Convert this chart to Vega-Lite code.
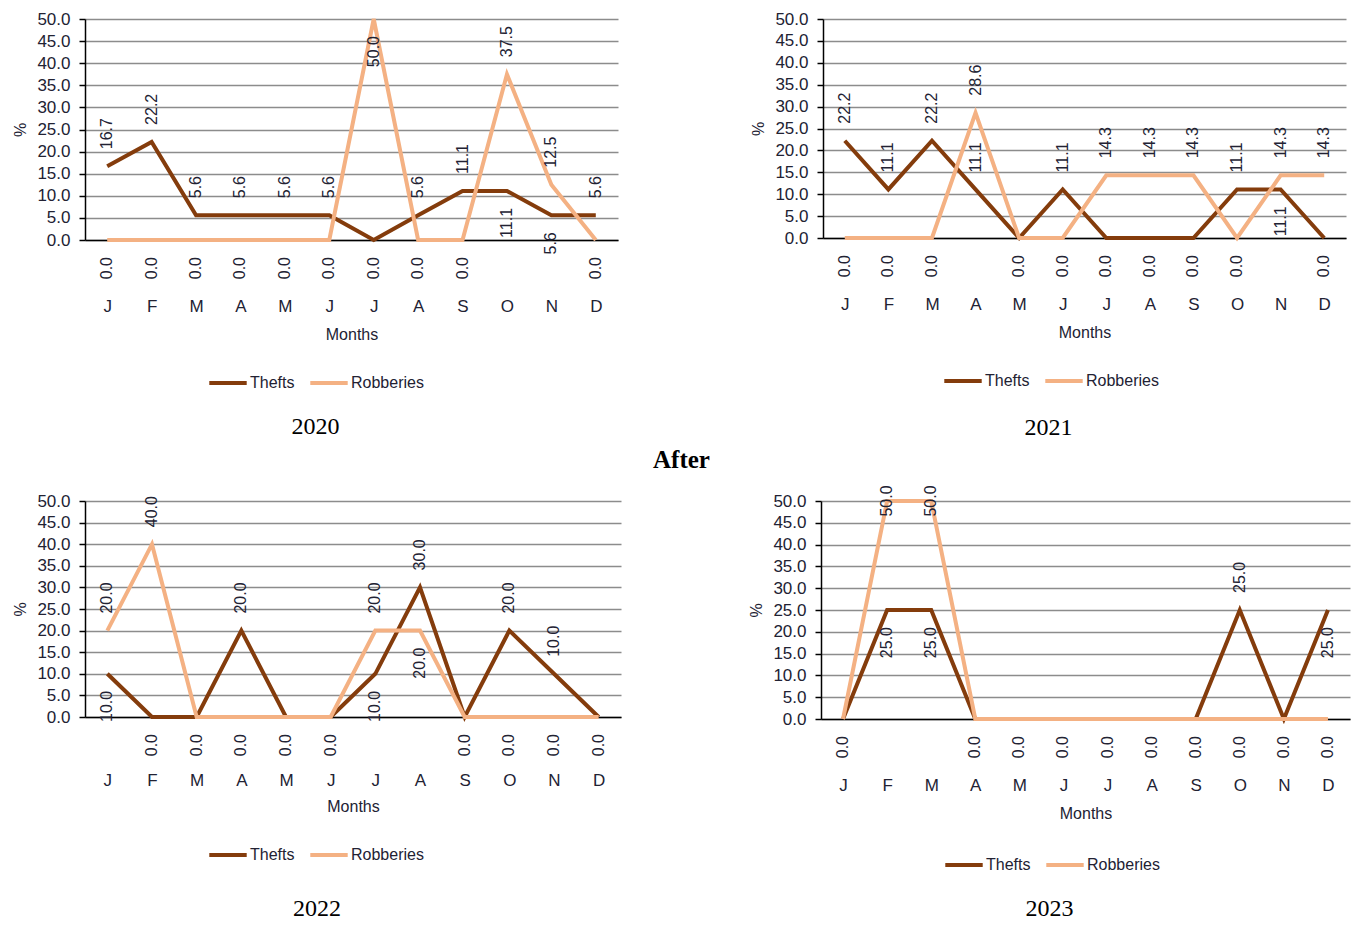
{
  "$schema": "https://vega.github.io/schema/vega-lite/v6.json",
  "background": "white",
  "padding": {"left": 12, "top": 10, "right": 5, "bottom": 2},
  "datasets": {
    "crime": [
      {"year": 2020, "month": 1, "series": "Thefts", "value": 16.7},
      {"year": 2020, "month": 2, "series": "Thefts", "value": 22.2},
      {"year": 2020, "month": 3, "series": "Thefts", "value": 5.6},
      {"year": 2020, "month": 4, "series": "Thefts", "value": 5.6},
      {"year": 2020, "month": 5, "series": "Thefts", "value": 5.6},
      {"year": 2020, "month": 6, "series": "Thefts", "value": 5.6},
      {"year": 2020, "month": 7, "series": "Thefts", "value": 0},
      {"year": 2020, "month": 8, "series": "Thefts", "value": 5.6},
      {"year": 2020, "month": 9, "series": "Thefts", "value": 11.1},
      {"year": 2020, "month": 10, "series": "Thefts", "value": 11.1},
      {"year": 2020, "month": 11, "series": "Thefts", "value": 5.6},
      {"year": 2020, "month": 12, "series": "Thefts", "value": 5.6},
      {"year": 2020, "month": 1, "series": "Robberies", "value": 0},
      {"year": 2020, "month": 2, "series": "Robberies", "value": 0},
      {"year": 2020, "month": 3, "series": "Robberies", "value": 0},
      {"year": 2020, "month": 4, "series": "Robberies", "value": 0},
      {"year": 2020, "month": 5, "series": "Robberies", "value": 0},
      {"year": 2020, "month": 6, "series": "Robberies", "value": 0},
      {"year": 2020, "month": 7, "series": "Robberies", "value": 50},
      {"year": 2020, "month": 8, "series": "Robberies", "value": 0},
      {"year": 2020, "month": 9, "series": "Robberies", "value": 0},
      {"year": 2020, "month": 10, "series": "Robberies", "value": 37.5},
      {"year": 2020, "month": 11, "series": "Robberies", "value": 12.5},
      {"year": 2020, "month": 12, "series": "Robberies", "value": 0},
      {"year": 2021, "month": 1, "series": "Thefts", "value": 22.2},
      {"year": 2021, "month": 2, "series": "Thefts", "value": 11.1},
      {"year": 2021, "month": 3, "series": "Thefts", "value": 22.2},
      {"year": 2021, "month": 4, "series": "Thefts", "value": 11.1},
      {"year": 2021, "month": 5, "series": "Thefts", "value": 0},
      {"year": 2021, "month": 6, "series": "Thefts", "value": 11.1},
      {"year": 2021, "month": 7, "series": "Thefts", "value": 0},
      {"year": 2021, "month": 8, "series": "Thefts", "value": 0},
      {"year": 2021, "month": 9, "series": "Thefts", "value": 0},
      {"year": 2021, "month": 10, "series": "Thefts", "value": 11.1},
      {"year": 2021, "month": 11, "series": "Thefts", "value": 11.1},
      {"year": 2021, "month": 12, "series": "Thefts", "value": 0},
      {"year": 2021, "month": 1, "series": "Robberies", "value": 0},
      {"year": 2021, "month": 2, "series": "Robberies", "value": 0},
      {"year": 2021, "month": 3, "series": "Robberies", "value": 0},
      {"year": 2021, "month": 4, "series": "Robberies", "value": 28.6},
      {"year": 2021, "month": 5, "series": "Robberies", "value": 0},
      {"year": 2021, "month": 6, "series": "Robberies", "value": 0},
      {"year": 2021, "month": 7, "series": "Robberies", "value": 14.3},
      {"year": 2021, "month": 8, "series": "Robberies", "value": 14.3},
      {"year": 2021, "month": 9, "series": "Robberies", "value": 14.3},
      {"year": 2021, "month": 10, "series": "Robberies", "value": 0},
      {"year": 2021, "month": 11, "series": "Robberies", "value": 14.3},
      {"year": 2021, "month": 12, "series": "Robberies", "value": 14.3},
      {"year": 2022, "month": 1, "series": "Thefts", "value": 10},
      {"year": 2022, "month": 2, "series": "Thefts", "value": 0},
      {"year": 2022, "month": 3, "series": "Thefts", "value": 0},
      {"year": 2022, "month": 4, "series": "Thefts", "value": 20},
      {"year": 2022, "month": 5, "series": "Thefts", "value": 0},
      {"year": 2022, "month": 6, "series": "Thefts", "value": 0},
      {"year": 2022, "month": 7, "series": "Thefts", "value": 10},
      {"year": 2022, "month": 8, "series": "Thefts", "value": 30},
      {"year": 2022, "month": 9, "series": "Thefts", "value": 0},
      {"year": 2022, "month": 10, "series": "Thefts", "value": 20},
      {"year": 2022, "month": 11, "series": "Thefts", "value": 10},
      {"year": 2022, "month": 12, "series": "Thefts", "value": 0},
      {"year": 2022, "month": 1, "series": "Robberies", "value": 20},
      {"year": 2022, "month": 2, "series": "Robberies", "value": 40},
      {"year": 2022, "month": 3, "series": "Robberies", "value": 0},
      {"year": 2022, "month": 4, "series": "Robberies", "value": 0},
      {"year": 2022, "month": 5, "series": "Robberies", "value": 0},
      {"year": 2022, "month": 6, "series": "Robberies", "value": 0},
      {"year": 2022, "month": 7, "series": "Robberies", "value": 20},
      {"year": 2022, "month": 8, "series": "Robberies", "value": 20},
      {"year": 2022, "month": 9, "series": "Robberies", "value": 0},
      {"year": 2022, "month": 10, "series": "Robberies", "value": 0},
      {"year": 2022, "month": 11, "series": "Robberies", "value": 0},
      {"year": 2022, "month": 12, "series": "Robberies", "value": 0},
      {"year": 2023, "month": 1, "series": "Thefts", "value": 0},
      {"year": 2023, "month": 2, "series": "Thefts", "value": 25},
      {"year": 2023, "month": 3, "series": "Thefts", "value": 25},
      {"year": 2023, "month": 4, "series": "Thefts", "value": 0},
      {"year": 2023, "month": 5, "series": "Thefts", "value": 0},
      {"year": 2023, "month": 6, "series": "Thefts", "value": 0},
      {"year": 2023, "month": 7, "series": "Thefts", "value": 0},
      {"year": 2023, "month": 8, "series": "Thefts", "value": 0},
      {"year": 2023, "month": 9, "series": "Thefts", "value": 0},
      {"year": 2023, "month": 10, "series": "Thefts", "value": 25},
      {"year": 2023, "month": 11, "series": "Thefts", "value": 0},
      {"year": 2023, "month": 12, "series": "Thefts", "value": 25},
      {"year": 2023, "month": 1, "series": "Robberies", "value": 0},
      {"year": 2023, "month": 2, "series": "Robberies", "value": 50},
      {"year": 2023, "month": 3, "series": "Robberies", "value": 50},
      {"year": 2023, "month": 4, "series": "Robberies", "value": 0},
      {"year": 2023, "month": 5, "series": "Robberies", "value": 0},
      {"year": 2023, "month": 6, "series": "Robberies", "value": 0},
      {"year": 2023, "month": 7, "series": "Robberies", "value": 0},
      {"year": 2023, "month": 8, "series": "Robberies", "value": 0},
      {"year": 2023, "month": 9, "series": "Robberies", "value": 0},
      {"year": 2023, "month": 10, "series": "Robberies", "value": 0},
      {"year": 2023, "month": 11, "series": "Robberies", "value": 0},
      {"year": 2023, "month": 12, "series": "Robberies", "value": 0}
    ]
  },
  "config": {
    "view": {"stroke": null},
    "font": "Liberation Sans",
    "axis": {
      "labelFont": "Liberation Sans",
      "labelFontSize": 17,
      "labelColor": "#222233",
      "titleFont": "Liberation Sans",
      "titleFontSize": 16,
      "titleFontWeight": "normal",
      "titleColor": "#222233",
      "domainColor": "#000000",
      "domainWidth": 1.5,
      "tickColor": "#000000",
      "tickWidth": 1.5,
      "gridColor": "#8c8c8c",
      "gridWidth": 1.5,
      "labelOverlap": false
    },
    "legend": {
      "orient": "none",
      "direction": "horizontal",
      "title": null,
      "symbolType": "stroke",
      "symbolStrokeWidth": 4,
      "symbolSize": 1400,
      "labelFont": "Liberation Sans",
      "labelFontSize": 16,
      "labelColor": "#222233",
      "labelOffset": 1,
      "columnPadding": 7
    },
    "title": {
      "font": "Liberation Serif",
      "fontSize": 24,
      "fontWeight": "normal",
      "color": "#000000",
      "orient": "bottom",
      "anchor": "middle",
      "frame": "bounds"
    },
    "text": {"font": "Liberation Sans", "fontSize": 16, "color": "#222233", "angle": 270, "baseline": "middle"}
  },
  "resolve": {"scale": {"color": "independent"}, "legend": {"color": "independent"}},
  "spacing": 8,
  "vconcat": [
    {
      "spacing": 132,
      "resolve": {"scale": {"color": "independent"}, "legend": {"color": "independent"}},
      "hconcat": [
        {
          "width": 533,
          "height": 221,
          "title": {"text": "2020", "offset": 24},
          "data": {"name": "crime"},
          "transform": [{"filter": "datum.year == 2020"}],
          "encoding": {
            "x": {"field": "month", "type": "ordinal", "axis": {"title": "Months", "labelAngle": 0, "labelExpr": "['J','F','M','A','M','J','J','A','S','O','N','D'][datum.value - 1]", "tickSize": 0, "labelPadding": 58, "titlePadding": 12, "grid": false}},
            "y": {"field": "value", "type": "quantitative", "scale": {"domain": [0, 50]}, "axis": {"title": "%", "values": [0, 5, 10, 15, 20, 25, 30, 35, 40, 45, 50], "format": ".1f", "tickSize": 6, "labelPadding": 9, "titlePadding": 8, "grid": true}}
          },
          "layer": [
            {"transform": [{"filter": "datum.series == 'Thefts'"}], "mark": {"type": "line", "strokeWidth": 4}, "encoding": {"color": {"field": "series", "type": "nominal", "scale": {"domain": ["Thefts", "Robberies"], "range": ["#843C0C", "#F4B183"]}, "legend": {"legendX": 122, "legendY": 343}}}},
            {"transform": [{"filter": "datum.series == 'Robberies'"}], "mark": {"type": "line", "strokeWidth": 4}, "encoding": {"color": {"field": "series", "type": "nominal", "scale": {"domain": ["Thefts", "Robberies"], "range": ["#843C0C", "#F4B183"]}, "legend": {"legendX": 122, "legendY": 343}}}},
            {"transform": [{"filter": "datum.value > 0 && !(datum.series == 'Thefts' && (datum.month == 10 || datum.month == 11)) && !(datum.series == 'Robberies' && datum.month == 7)"}], "mark": {"type": "text", "align": "left", "dx": 17}, "encoding": {"text": {"field": "value", "type": "quantitative", "format": ".1f"}}},
            {"transform": [{"joinaggregate": [{"op": "max", "field": "value", "as": "monthMax"}], "groupby": ["month"]}, {"filter": "!(datum.series == 'Robberies' && datum.monthMax == 0)"}, {"filter": "datum.value == 0 || (datum.series == 'Thefts' && (datum.month == 10 || datum.month == 11)) || (datum.series == 'Robberies' && datum.month == 7)"}], "mark": {"type": "text", "align": "right", "dx": -17}, "encoding": {"text": {"field": "value", "type": "quantitative", "format": ".1f"}}}
          ]
        },
        {
          "width": 523,
          "height": 219,
          "title": {"text": "2021", "offset": 27},
          "data": {"name": "crime"},
          "transform": [{"filter": "datum.year == 2021"}],
          "encoding": {
            "x": {"field": "month", "type": "ordinal", "axis": {"title": "Months", "labelAngle": 0, "labelExpr": "['J','F','M','A','M','J','J','A','S','O','N','D'][datum.value - 1]", "tickSize": 0, "labelPadding": 58, "titlePadding": 12, "grid": false}},
            "y": {"field": "value", "type": "quantitative", "scale": {"domain": [0, 50]}, "axis": {"title": "%", "values": [0, 5, 10, 15, 20, 25, 30, 35, 40, 45, 50], "format": ".1f", "tickSize": 6, "labelPadding": 9, "titlePadding": 8, "grid": true}}
          },
          "layer": [
            {"transform": [{"filter": "datum.series == 'Thefts'"}], "mark": {"type": "line", "strokeWidth": 4}, "encoding": {"color": {"field": "series", "type": "nominal", "scale": {"domain": ["Thefts", "Robberies"], "range": ["#843C0C", "#F4B183"]}, "legend": {"legendX": 119, "legendY": 341}}}},
            {"transform": [{"filter": "datum.series == 'Robberies'"}], "mark": {"type": "line", "strokeWidth": 4}, "encoding": {"color": {"field": "series", "type": "nominal", "scale": {"domain": ["Thefts", "Robberies"], "range": ["#843C0C", "#F4B183"]}, "legend": {"legendX": 119, "legendY": 341}}}},
            {"transform": [{"filter": "datum.value > 0 && !(datum.series == 'Thefts' && datum.month == 11)"}], "mark": {"type": "text", "align": "left", "dx": 17}, "encoding": {"text": {"field": "value", "type": "quantitative", "format": ".1f"}}},
            {"transform": [{"joinaggregate": [{"op": "max", "field": "value", "as": "monthMax"}], "groupby": ["month"]}, {"filter": "!(datum.series == 'Robberies' && datum.monthMax == 0)"}, {"filter": "datum.value == 0 || (datum.series == 'Thefts' && datum.month == 11)"}], "mark": {"type": "text", "align": "right", "dx": -17}, "encoding": {"text": {"field": "value", "type": "quantitative", "format": ".1f"}}}
          ]
        }
      ]
    },
    {
      "spacing": 127,
      "resolve": {"scale": {"color": "independent"}, "legend": {"color": "independent"}},
      "title": {"text": "After", "orient": "top", "anchor": "middle", "fontWeight": "bold", "fontSize": 25, "offset": 12},
      "hconcat": [
        {
          "width": 536,
          "height": 216,
          "title": {"text": "2022", "offset": 34},
          "data": {"name": "crime"},
          "transform": [{"filter": "datum.year == 2022"}],
          "encoding": {
            "x": {"field": "month", "type": "ordinal", "axis": {"title": "Months", "labelAngle": 0, "labelExpr": "['J','F','M','A','M','J','J','A','S','O','N','D'][datum.value - 1]", "tickSize": 0, "labelPadding": 55, "titlePadding": 10, "grid": false}},
            "y": {"field": "value", "type": "quantitative", "scale": {"domain": [0, 50]}, "axis": {"title": "%", "values": [0, 5, 10, 15, 20, 25, 30, 35, 40, 45, 50], "format": ".1f", "tickSize": 6, "labelPadding": 9, "titlePadding": 8, "grid": true}}
          },
          "layer": [
            {"transform": [{"filter": "datum.series == 'Thefts'"}], "mark": {"type": "line", "strokeWidth": 4}, "encoding": {"color": {"field": "series", "type": "nominal", "scale": {"domain": ["Thefts", "Robberies"], "range": ["#843C0C", "#F4B183"]}, "legend": {"legendX": 122, "legendY": 333}}}},
            {"transform": [{"filter": "datum.series == 'Robberies'"}], "mark": {"type": "line", "strokeWidth": 4}, "encoding": {"color": {"field": "series", "type": "nominal", "scale": {"domain": ["Thefts", "Robberies"], "range": ["#843C0C", "#F4B183"]}, "legend": {"legendX": 122, "legendY": 333}}}},
            {"transform": [{"filter": "datum.value > 0 && !(datum.series == 'Thefts' && (datum.month == 1 || datum.month == 7)) && !(datum.series == 'Robberies' && datum.month == 8)"}], "mark": {"type": "text", "align": "left", "dx": 17}, "encoding": {"text": {"field": "value", "type": "quantitative", "format": ".1f"}}},
            {"transform": [{"joinaggregate": [{"op": "max", "field": "value", "as": "monthMax"}], "groupby": ["month"]}, {"filter": "!(datum.series == 'Robberies' && datum.monthMax == 0)"}, {"filter": "datum.value == 0 || (datum.series == 'Thefts' && (datum.month == 1 || datum.month == 7)) || (datum.series == 'Robberies' && datum.month == 8)"}], "mark": {"type": "text", "align": "right", "dx": -17}, "encoding": {"text": {"field": "value", "type": "quantitative", "format": ".1f"}}}
          ]
        },
        {
          "width": 529,
          "height": 218,
          "title": {"text": "2023", "offset": 24},
          "data": {"name": "crime"},
          "transform": [{"filter": "datum.year == 2023"}],
          "encoding": {
            "x": {"field": "month", "type": "ordinal", "axis": {"title": "Months", "labelAngle": 0, "labelExpr": "['J','F','M','A','M','J','J','A','S','O','N','D'][datum.value - 1]", "tickSize": 0, "labelPadding": 58, "titlePadding": 12, "grid": false}},
            "y": {"field": "value", "type": "quantitative", "scale": {"domain": [0, 50]}, "axis": {"title": "%", "values": [0, 5, 10, 15, 20, 25, 30, 35, 40, 45, 50], "format": ".1f", "tickSize": 6, "labelPadding": 9, "titlePadding": 8, "grid": true}}
          },
          "layer": [
            {"transform": [{"filter": "datum.series == 'Thefts'"}], "mark": {"type": "line", "strokeWidth": 4}, "encoding": {"color": {"field": "series", "type": "nominal", "scale": {"domain": ["Thefts", "Robberies"], "range": ["#843C0C", "#F4B183"]}, "legend": {"legendX": 122, "legendY": 343}}}},
            {"transform": [{"filter": "datum.series == 'Robberies'"}], "mark": {"type": "line", "strokeWidth": 4}, "encoding": {"color": {"field": "series", "type": "nominal", "scale": {"domain": ["Thefts", "Robberies"], "range": ["#843C0C", "#F4B183"]}, "legend": {"legendX": 122, "legendY": 343}}}},
            {"transform": [{"filter": "datum.series == 'Thefts' && datum.month == 10"}], "mark": {"type": "text", "align": "left", "dx": 17}, "encoding": {"text": {"field": "value", "type": "quantitative", "format": ".1f"}}},
            {"transform": [{"joinaggregate": [{"op": "max", "field": "value", "as": "monthMax"}], "groupby": ["month"]}, {"filter": "!(datum.series == 'Robberies' && datum.monthMax == 0)"}, {"filter": "datum.value == 0 || (datum.series == 'Thefts' && datum.month != 10)"}], "mark": {"type": "text", "align": "right", "dx": -17}, "encoding": {"text": {"field": "value", "type": "quantitative", "format": ".1f"}}},
            {"transform": [{"filter": "datum.series == 'Robberies' && datum.value > 0"}], "mark": {"type": "text", "align": "center", "dx": 0}, "encoding": {"text": {"field": "value", "type": "quantitative", "format": ".1f"}}}
          ]
        }
      ]
    }
  ]
}
